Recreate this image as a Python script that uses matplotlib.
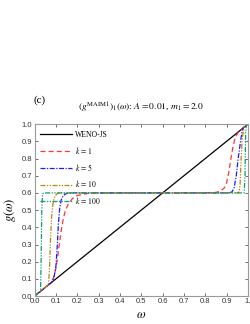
import matplotlib
matplotlib.use("Agg")
import matplotlib.pyplot as plt

plt.rcParams['mathtext.fontset'] = 'stix'
plt.rcParams['font.family'] = ['Liberation Serif', 'DejaVu Serif']

# WENO-JS (identity mapping)
w_js = [0.0, 1.0]
g_js = [0.0, 1.0]

# k = 1
w_k1 = [0.0, 0.06, 0.075, 0.09, 0.10, 0.108, 0.115, 0.125, 0.135, 0.145, 0.16, 0.18, 0.20, 0.25, 0.30, 0.5,
        0.80, 0.85, 0.87, 0.89, 0.90, 0.91, 0.92, 0.93, 0.94, 0.955, 0.97, 1.0]
g_k1 = [0.0, 0.06, 0.075, 0.11, 0.16, 0.22, 0.29, 0.38, 0.45, 0.50, 0.54, 0.57, 0.585, 0.597, 0.6, 0.6,
        0.601, 0.603, 0.61, 0.63, 0.66, 0.72, 0.80, 0.87, 0.92, 0.955, 0.97, 1.0]

# k = 5
w_k5 = [0.0, 0.08, 0.09, 0.10, 0.107, 0.112, 0.118, 0.125, 0.135, 0.15, 0.18, 0.5,
        0.90, 0.925, 0.935, 0.945, 0.955, 0.965, 0.975, 1.0]
g_k5 = [0.0, 0.08, 0.10, 0.17, 0.30, 0.42, 0.51, 0.56, 0.585, 0.597, 0.6, 0.6,
        0.6, 0.605, 0.63, 0.70, 0.81, 0.90, 0.975, 1.0]

# k = 10
w_k10 = [0.0, 0.065, 0.07, 0.075, 0.08, 0.087, 0.095, 0.105, 0.12, 0.5,
         0.95, 0.958, 0.963, 0.967, 0.972, 0.98, 1.0]
g_k10 = [0.0, 0.065, 0.15, 0.33, 0.46, 0.54, 0.58, 0.595, 0.6, 0.6,
         0.6, 0.605, 0.65, 0.78, 0.90, 0.98, 1.0]

# k = 100
w_k100 = [0.0, 0.028, 0.031, 0.034, 0.038, 0.045, 0.5, 0.982, 0.986, 0.989, 0.992, 1.0]
g_k100 = [0.0, 0.028, 0.2, 0.5, 0.595, 0.6, 0.6, 0.6, 0.7, 0.95, 0.992, 1.0]

fig = plt.figure(figsize=(2.5, 3.24), dpi=100)
ax = fig.add_axes([0.138, 0.086, 0.854, 0.531])

ax.plot(w_js, g_js, color='black', lw=0.9, label='WENO-JS')
ax.plot(w_k1, g_k1, color='#ff3333', lw=0.9, ls=(0, (4, 2.5)), label=r'$k\,=\,1$')
ax.plot(w_k5, g_k5, color='#1a1aff', lw=0.9, ls=(0, (4, 1.2, 1, 1.2)), label=r'$k\,=\,5$')
ax.plot(w_k10, g_k10, color='#b8860b', lw=0.9, ls=(0, (4, 1.2, 1, 1.2, 1, 1.2)), label=r'$k\,=\,10$')
ax.plot(w_k100, g_k100, color='#139a6a', lw=0.9, ls=(0, (4, 1.2, 1, 1.2, 1, 1.2)), label=r'$k\,=\,100$')

ax.set_xlim(0, 1)
ax.set_ylim(0, 1)
ticks = [i / 10 for i in range(11)]
ax.set_xticks(ticks)
ax.set_yticks(ticks)
ax.set_xticklabels(['0.0', '0.1', '0.2', '0.3', '0.4', '0.5', '0.6', '0.7', '0.8', '0.9', '1.'],
                   family='Liberation Sans', fontsize=5.5)
ax.set_yticklabels(['0.0', '0.1', '0.2', '0.3', '0.4', '0.5', '0.6', '0.7', '0.8', '0.9', '1.0'],
                   family='Liberation Sans', fontsize=5.5)
ax.tick_params(direction='in', length=2.5, width=0.5, pad=1.5, top=True, right=True,
               colors='#333333', labelcolor='#333333')
for s in ax.spines.values():
    s.set_color('#999999')
    s.set_linewidth(0.8)

ax.set_xlabel(r'$\omega$', fontsize=9, labelpad=3)
ax.set_ylabel(r'$g(\omega)$', fontsize=9, labelpad=3)

ax.set_title(r'$(g^{\mathrm{MAIM1}})_1(\omega)$: $A = 0.01$, $m_1 = 2.0$', fontsize=6.8, pad=10)
fig.text(0.16, 0.69, '(c)', fontsize=8, ha='center', va='center')

leg = ax.legend(loc='upper left', bbox_to_anchor=(0.0, 0.99), frameon=False, fontsize=5.5,
                handlelength=4.2, handletextpad=0.4, labelspacing=0.75, borderaxespad=0.3)

fig.savefig('out.png', dpi=100)
